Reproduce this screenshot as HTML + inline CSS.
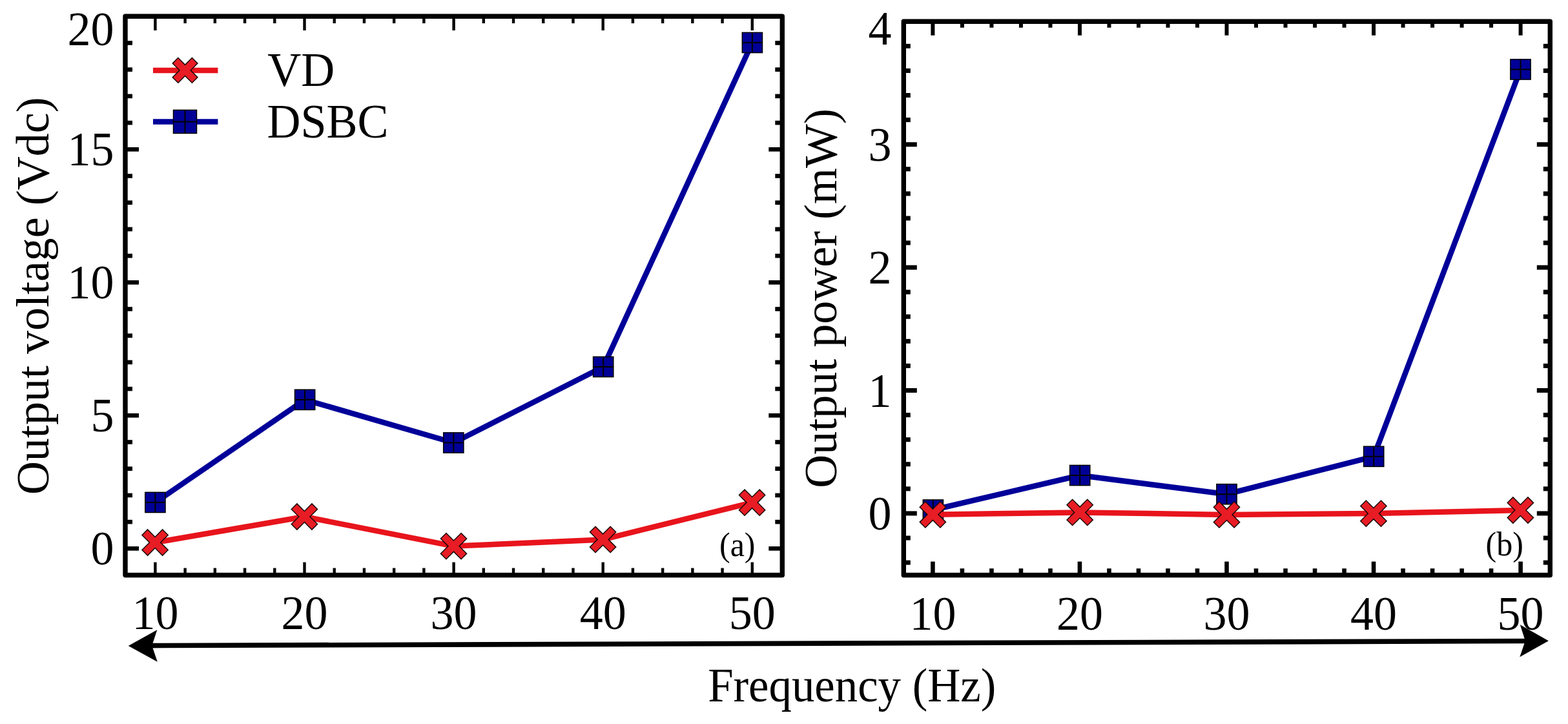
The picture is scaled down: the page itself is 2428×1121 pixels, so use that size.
<!DOCTYPE html><html><head><meta charset="utf-8"><title>Output voltage and power vs frequency</title>
<style>html,body{margin:0;padding:0;background:#fff;}svg{display:block;}text{font-family:"Liberation Serif",serif;fill:#000;}</style></head><body>
<svg width="2428" height="1121" viewBox="0 0 2428 1121">
<rect width="2428" height="1121" fill="#fff"/>
<line x1="194.00" y1="849.30" x2="215.00" y2="849.30" stroke="#000" stroke-width="6.60" stroke-linecap="butt"/>
<line x1="1211.30" y1="849.30" x2="1190.30" y2="849.30" stroke="#000" stroke-width="6.60" stroke-linecap="butt"/>
<line x1="194.00" y1="808.10" x2="205.00" y2="808.10" stroke="#000" stroke-width="6.60" stroke-linecap="butt"/>
<line x1="1211.30" y1="808.10" x2="1200.30" y2="808.10" stroke="#000" stroke-width="6.60" stroke-linecap="butt"/>
<line x1="194.00" y1="766.90" x2="205.00" y2="766.90" stroke="#000" stroke-width="6.60" stroke-linecap="butt"/>
<line x1="1211.30" y1="766.90" x2="1200.30" y2="766.90" stroke="#000" stroke-width="6.60" stroke-linecap="butt"/>
<line x1="194.00" y1="725.70" x2="205.00" y2="725.70" stroke="#000" stroke-width="6.60" stroke-linecap="butt"/>
<line x1="1211.30" y1="725.70" x2="1200.30" y2="725.70" stroke="#000" stroke-width="6.60" stroke-linecap="butt"/>
<line x1="194.00" y1="684.50" x2="205.00" y2="684.50" stroke="#000" stroke-width="6.60" stroke-linecap="butt"/>
<line x1="1211.30" y1="684.50" x2="1200.30" y2="684.50" stroke="#000" stroke-width="6.60" stroke-linecap="butt"/>
<line x1="194.00" y1="643.30" x2="215.00" y2="643.30" stroke="#000" stroke-width="6.60" stroke-linecap="butt"/>
<line x1="1211.30" y1="643.30" x2="1190.30" y2="643.30" stroke="#000" stroke-width="6.60" stroke-linecap="butt"/>
<line x1="194.00" y1="602.10" x2="205.00" y2="602.10" stroke="#000" stroke-width="6.60" stroke-linecap="butt"/>
<line x1="1211.30" y1="602.10" x2="1200.30" y2="602.10" stroke="#000" stroke-width="6.60" stroke-linecap="butt"/>
<line x1="194.00" y1="560.90" x2="205.00" y2="560.90" stroke="#000" stroke-width="6.60" stroke-linecap="butt"/>
<line x1="1211.30" y1="560.90" x2="1200.30" y2="560.90" stroke="#000" stroke-width="6.60" stroke-linecap="butt"/>
<line x1="194.00" y1="519.70" x2="205.00" y2="519.70" stroke="#000" stroke-width="6.60" stroke-linecap="butt"/>
<line x1="1211.30" y1="519.70" x2="1200.30" y2="519.70" stroke="#000" stroke-width="6.60" stroke-linecap="butt"/>
<line x1="194.00" y1="478.50" x2="205.00" y2="478.50" stroke="#000" stroke-width="6.60" stroke-linecap="butt"/>
<line x1="1211.30" y1="478.50" x2="1200.30" y2="478.50" stroke="#000" stroke-width="6.60" stroke-linecap="butt"/>
<line x1="194.00" y1="437.30" x2="215.00" y2="437.30" stroke="#000" stroke-width="6.60" stroke-linecap="butt"/>
<line x1="1211.30" y1="437.30" x2="1190.30" y2="437.30" stroke="#000" stroke-width="6.60" stroke-linecap="butt"/>
<line x1="194.00" y1="396.10" x2="205.00" y2="396.10" stroke="#000" stroke-width="6.60" stroke-linecap="butt"/>
<line x1="1211.30" y1="396.10" x2="1200.30" y2="396.10" stroke="#000" stroke-width="6.60" stroke-linecap="butt"/>
<line x1="194.00" y1="354.90" x2="205.00" y2="354.90" stroke="#000" stroke-width="6.60" stroke-linecap="butt"/>
<line x1="1211.30" y1="354.90" x2="1200.30" y2="354.90" stroke="#000" stroke-width="6.60" stroke-linecap="butt"/>
<line x1="194.00" y1="313.70" x2="205.00" y2="313.70" stroke="#000" stroke-width="6.60" stroke-linecap="butt"/>
<line x1="1211.30" y1="313.70" x2="1200.30" y2="313.70" stroke="#000" stroke-width="6.60" stroke-linecap="butt"/>
<line x1="194.00" y1="272.50" x2="205.00" y2="272.50" stroke="#000" stroke-width="6.60" stroke-linecap="butt"/>
<line x1="1211.30" y1="272.50" x2="1200.30" y2="272.50" stroke="#000" stroke-width="6.60" stroke-linecap="butt"/>
<line x1="194.00" y1="231.30" x2="215.00" y2="231.30" stroke="#000" stroke-width="6.60" stroke-linecap="butt"/>
<line x1="1211.30" y1="231.30" x2="1190.30" y2="231.30" stroke="#000" stroke-width="6.60" stroke-linecap="butt"/>
<line x1="194.00" y1="190.10" x2="205.00" y2="190.10" stroke="#000" stroke-width="6.60" stroke-linecap="butt"/>
<line x1="1211.30" y1="190.10" x2="1200.30" y2="190.10" stroke="#000" stroke-width="6.60" stroke-linecap="butt"/>
<line x1="194.00" y1="148.90" x2="205.00" y2="148.90" stroke="#000" stroke-width="6.60" stroke-linecap="butt"/>
<line x1="1211.30" y1="148.90" x2="1200.30" y2="148.90" stroke="#000" stroke-width="6.60" stroke-linecap="butt"/>
<line x1="194.00" y1="107.70" x2="205.00" y2="107.70" stroke="#000" stroke-width="6.60" stroke-linecap="butt"/>
<line x1="1211.30" y1="107.70" x2="1200.30" y2="107.70" stroke="#000" stroke-width="6.60" stroke-linecap="butt"/>
<line x1="194.00" y1="66.50" x2="205.00" y2="66.50" stroke="#000" stroke-width="6.60" stroke-linecap="butt"/>
<line x1="1211.30" y1="66.50" x2="1200.30" y2="66.50" stroke="#000" stroke-width="6.60" stroke-linecap="butt"/>
<line x1="240.40" y1="890.50" x2="240.40" y2="870.50" stroke="#000" stroke-width="4.40" stroke-linecap="butt"/>
<line x1="240.40" y1="25.30" x2="240.40" y2="47.10" stroke="#000" stroke-width="4.40" stroke-linecap="butt"/>
<line x1="286.62" y1="890.50" x2="286.62" y2="879.50" stroke="#000" stroke-width="4.40" stroke-linecap="butt"/>
<line x1="286.62" y1="25.30" x2="286.62" y2="36.10" stroke="#000" stroke-width="4.40" stroke-linecap="butt"/>
<line x1="332.84" y1="890.50" x2="332.84" y2="879.50" stroke="#000" stroke-width="4.40" stroke-linecap="butt"/>
<line x1="332.84" y1="25.30" x2="332.84" y2="36.10" stroke="#000" stroke-width="4.40" stroke-linecap="butt"/>
<line x1="379.06" y1="890.50" x2="379.06" y2="879.50" stroke="#000" stroke-width="4.40" stroke-linecap="butt"/>
<line x1="379.06" y1="25.30" x2="379.06" y2="36.10" stroke="#000" stroke-width="4.40" stroke-linecap="butt"/>
<line x1="425.28" y1="890.50" x2="425.28" y2="879.50" stroke="#000" stroke-width="4.40" stroke-linecap="butt"/>
<line x1="425.28" y1="25.30" x2="425.28" y2="36.10" stroke="#000" stroke-width="4.40" stroke-linecap="butt"/>
<line x1="471.50" y1="890.50" x2="471.50" y2="870.50" stroke="#000" stroke-width="4.40" stroke-linecap="butt"/>
<line x1="471.50" y1="25.30" x2="471.50" y2="47.10" stroke="#000" stroke-width="4.40" stroke-linecap="butt"/>
<line x1="517.72" y1="890.50" x2="517.72" y2="879.50" stroke="#000" stroke-width="4.40" stroke-linecap="butt"/>
<line x1="517.72" y1="25.30" x2="517.72" y2="36.10" stroke="#000" stroke-width="4.40" stroke-linecap="butt"/>
<line x1="563.94" y1="890.50" x2="563.94" y2="879.50" stroke="#000" stroke-width="4.40" stroke-linecap="butt"/>
<line x1="563.94" y1="25.30" x2="563.94" y2="36.10" stroke="#000" stroke-width="4.40" stroke-linecap="butt"/>
<line x1="610.16" y1="890.50" x2="610.16" y2="879.50" stroke="#000" stroke-width="4.40" stroke-linecap="butt"/>
<line x1="610.16" y1="25.30" x2="610.16" y2="36.10" stroke="#000" stroke-width="4.40" stroke-linecap="butt"/>
<line x1="656.38" y1="890.50" x2="656.38" y2="879.50" stroke="#000" stroke-width="4.40" stroke-linecap="butt"/>
<line x1="656.38" y1="25.30" x2="656.38" y2="36.10" stroke="#000" stroke-width="4.40" stroke-linecap="butt"/>
<line x1="702.60" y1="890.50" x2="702.60" y2="870.50" stroke="#000" stroke-width="4.40" stroke-linecap="butt"/>
<line x1="702.60" y1="25.30" x2="702.60" y2="47.10" stroke="#000" stroke-width="4.40" stroke-linecap="butt"/>
<line x1="748.82" y1="890.50" x2="748.82" y2="879.50" stroke="#000" stroke-width="4.40" stroke-linecap="butt"/>
<line x1="748.82" y1="25.30" x2="748.82" y2="36.10" stroke="#000" stroke-width="4.40" stroke-linecap="butt"/>
<line x1="795.04" y1="890.50" x2="795.04" y2="879.50" stroke="#000" stroke-width="4.40" stroke-linecap="butt"/>
<line x1="795.04" y1="25.30" x2="795.04" y2="36.10" stroke="#000" stroke-width="4.40" stroke-linecap="butt"/>
<line x1="841.26" y1="890.50" x2="841.26" y2="879.50" stroke="#000" stroke-width="4.40" stroke-linecap="butt"/>
<line x1="841.26" y1="25.30" x2="841.26" y2="36.10" stroke="#000" stroke-width="4.40" stroke-linecap="butt"/>
<line x1="887.48" y1="890.50" x2="887.48" y2="879.50" stroke="#000" stroke-width="4.40" stroke-linecap="butt"/>
<line x1="887.48" y1="25.30" x2="887.48" y2="36.10" stroke="#000" stroke-width="4.40" stroke-linecap="butt"/>
<line x1="933.70" y1="890.50" x2="933.70" y2="870.50" stroke="#000" stroke-width="4.40" stroke-linecap="butt"/>
<line x1="933.70" y1="25.30" x2="933.70" y2="47.10" stroke="#000" stroke-width="4.40" stroke-linecap="butt"/>
<line x1="979.92" y1="890.50" x2="979.92" y2="879.50" stroke="#000" stroke-width="4.40" stroke-linecap="butt"/>
<line x1="979.92" y1="25.30" x2="979.92" y2="36.10" stroke="#000" stroke-width="4.40" stroke-linecap="butt"/>
<line x1="1026.14" y1="890.50" x2="1026.14" y2="879.50" stroke="#000" stroke-width="4.40" stroke-linecap="butt"/>
<line x1="1026.14" y1="25.30" x2="1026.14" y2="36.10" stroke="#000" stroke-width="4.40" stroke-linecap="butt"/>
<line x1="1072.36" y1="890.50" x2="1072.36" y2="879.50" stroke="#000" stroke-width="4.40" stroke-linecap="butt"/>
<line x1="1072.36" y1="25.30" x2="1072.36" y2="36.10" stroke="#000" stroke-width="4.40" stroke-linecap="butt"/>
<line x1="1118.58" y1="890.50" x2="1118.58" y2="879.50" stroke="#000" stroke-width="4.40" stroke-linecap="butt"/>
<line x1="1118.58" y1="25.30" x2="1118.58" y2="36.10" stroke="#000" stroke-width="4.40" stroke-linecap="butt"/>
<line x1="1164.80" y1="890.50" x2="1164.80" y2="870.50" stroke="#000" stroke-width="4.40" stroke-linecap="butt"/>
<line x1="1164.80" y1="25.30" x2="1164.80" y2="47.10" stroke="#000" stroke-width="4.40" stroke-linecap="butt"/>
<rect x="194.00" y="25.30" width="1017.30" height="865.20" fill="none" stroke="#000" stroke-width="7.4" stroke-linejoin="round"/>
<polyline points="240.40,777.90 472.10,618.90 702.30,685.50 934.20,568.00 1164.90,66.00" fill="none" stroke="#000099" stroke-width="8.50" stroke-linejoin="round" stroke-linecap="butt"/>
<rect x="224.80" y="762.30" width="31.20" height="31.20" fill="#000096" stroke="#000" stroke-width="1.50"/>
<line x1="240.40" y1="762.30" x2="240.40" y2="793.50" stroke="#000" stroke-width="2.00"/>
<line x1="224.80" y1="777.90" x2="256.00" y2="777.90" stroke="#000" stroke-width="2.00"/>
<rect x="456.50" y="603.30" width="31.20" height="31.20" fill="#000096" stroke="#000" stroke-width="1.50"/>
<line x1="472.10" y1="603.30" x2="472.10" y2="634.50" stroke="#000" stroke-width="2.00"/>
<line x1="456.50" y1="618.90" x2="487.70" y2="618.90" stroke="#000" stroke-width="2.00"/>
<rect x="686.70" y="669.90" width="31.20" height="31.20" fill="#000096" stroke="#000" stroke-width="1.50"/>
<line x1="702.30" y1="669.90" x2="702.30" y2="701.10" stroke="#000" stroke-width="2.00"/>
<line x1="686.70" y1="685.50" x2="717.90" y2="685.50" stroke="#000" stroke-width="2.00"/>
<rect x="918.60" y="552.40" width="31.20" height="31.20" fill="#000096" stroke="#000" stroke-width="1.50"/>
<line x1="934.20" y1="552.40" x2="934.20" y2="583.60" stroke="#000" stroke-width="2.00"/>
<line x1="918.60" y1="568.00" x2="949.80" y2="568.00" stroke="#000" stroke-width="2.00"/>
<rect x="1149.30" y="50.40" width="31.20" height="31.20" fill="#000096" stroke="#000" stroke-width="1.50"/>
<line x1="1164.90" y1="50.40" x2="1164.90" y2="81.60" stroke="#000" stroke-width="2.00"/>
<line x1="1149.30" y1="66.00" x2="1180.50" y2="66.00" stroke="#000" stroke-width="2.00"/>
<polyline points="240.10,840.00 471.40,800.00 702.50,845.60 933.60,835.40 1164.60,778.10" fill="none" stroke="#E8141C" stroke-width="8.50" stroke-linejoin="round" stroke-linecap="butt"/>
<polygon points="228.54,860.12 240.10,848.56 251.66,860.12 260.22,851.56 248.66,840.00 260.22,828.44 251.66,819.88 240.10,831.44 228.54,819.88 219.98,828.44 231.54,840.00 219.98,851.56" fill="#E81C24" stroke="#1a0a0a" stroke-width="1.50" stroke-linejoin="miter"/>
<polygon points="459.84,820.12 471.40,808.56 482.96,820.12 491.52,811.56 479.96,800.00 491.52,788.44 482.96,779.88 471.40,791.44 459.84,779.88 451.28,788.44 462.84,800.00 451.28,811.56" fill="#E81C24" stroke="#1a0a0a" stroke-width="1.50" stroke-linejoin="miter"/>
<polygon points="690.94,865.72 702.50,854.16 714.06,865.72 722.62,857.16 711.06,845.60 722.62,834.04 714.06,825.48 702.50,837.04 690.94,825.48 682.38,834.04 693.94,845.60 682.38,857.16" fill="#E81C24" stroke="#1a0a0a" stroke-width="1.50" stroke-linejoin="miter"/>
<polygon points="922.04,855.52 933.60,843.96 945.16,855.52 953.72,846.96 942.16,835.40 953.72,823.84 945.16,815.28 933.60,826.84 922.04,815.28 913.48,823.84 925.04,835.40 913.48,846.96" fill="#E81C24" stroke="#1a0a0a" stroke-width="1.50" stroke-linejoin="miter"/>
<polygon points="1153.04,798.22 1164.60,786.66 1176.16,798.22 1184.72,789.66 1173.16,778.10 1184.72,766.54 1176.16,757.98 1164.60,769.54 1153.04,757.98 1144.48,766.54 1156.04,778.10 1144.48,789.66" fill="#E81C24" stroke="#1a0a0a" stroke-width="1.50" stroke-linejoin="miter"/>
<line x1="237.00" y1="109.00" x2="337.40" y2="109.00" stroke="#E8141C" stroke-width="8.50" stroke-linecap="butt"/>
<polygon points="275.82,128.24 286.60,117.46 297.38,128.24 305.94,119.68 295.16,108.90 305.94,98.12 297.38,89.56 286.60,100.34 275.82,89.56 267.26,98.12 278.04,108.90 267.26,119.68" fill="#E81C24" stroke="#1a0a0a" stroke-width="1.50" stroke-linejoin="miter"/>
<line x1="237.00" y1="188.60" x2="337.40" y2="188.60" stroke="#000099" stroke-width="8.50" stroke-linecap="butt"/>
<rect x="268.50" y="170.40" width="36.00" height="36.00" fill="#000096" stroke="#000" stroke-width="1.50"/>
<line x1="286.50" y1="170.40" x2="286.50" y2="206.40" stroke="#000" stroke-width="2.00"/>
<line x1="268.50" y1="188.40" x2="304.50" y2="188.40" stroke="#000" stroke-width="2.00"/>
<text transform="translate(414.20,132.80) scale(1,1.035)" font-size="72.00" text-anchor="start" >VD</text>
<text transform="translate(413.40,212.80) scale(1,1.035)" font-size="72.00" text-anchor="start" >DSBC</text>
<text transform="translate(176.50,874.30) scale(1,1.035)" font-size="72.00" text-anchor="end" >0</text>
<text transform="translate(176.50,667.60) scale(1,1.035)" font-size="72.00" text-anchor="end" >5</text>
<text transform="translate(176.50,461.70) scale(1,1.035)" font-size="72.00" text-anchor="end" >10</text>
<text transform="translate(176.50,256.00) scale(1,1.035)" font-size="72.00" text-anchor="end" >15</text>
<text transform="translate(176.50,70.10) scale(1,1.035)" font-size="72.00" text-anchor="end" >20</text>
<text transform="translate(240.40,973.50) scale(1,1.035)" font-size="72.00" text-anchor="middle" >10</text>
<text transform="translate(471.50,973.50) scale(1,1.035)" font-size="72.00" text-anchor="middle" >20</text>
<text transform="translate(702.60,973.50) scale(1,1.035)" font-size="72.00" text-anchor="middle" >30</text>
<text transform="translate(933.70,973.50) scale(1,1.035)" font-size="72.00" text-anchor="middle" >40</text>
<text transform="translate(1164.80,973.50) scale(1,1.035)" font-size="72.00" text-anchor="middle" >50</text>
<text transform="translate(1114.00,860.60) scale(1,1.035)" font-size="50.00" text-anchor="start" >(a)</text>
<text transform="translate(75.2,458.2) rotate(-90)" font-size="72" text-anchor="middle">Output voltage (Vdc)</text>
<line x1="1399.30" y1="871.06" x2="1409.80" y2="871.06" stroke="#000" stroke-width="7.00" stroke-linecap="butt"/>
<line x1="2400.30" y1="871.06" x2="2389.80" y2="871.06" stroke="#000" stroke-width="7.00" stroke-linecap="butt"/>
<line x1="1399.30" y1="832.98" x2="1409.80" y2="832.98" stroke="#000" stroke-width="7.00" stroke-linecap="butt"/>
<line x1="2400.30" y1="832.98" x2="2389.80" y2="832.98" stroke="#000" stroke-width="7.00" stroke-linecap="butt"/>
<line x1="1399.30" y1="794.90" x2="1419.80" y2="794.90" stroke="#000" stroke-width="7.00" stroke-linecap="butt"/>
<line x1="2400.30" y1="794.90" x2="2379.80" y2="794.90" stroke="#000" stroke-width="7.00" stroke-linecap="butt"/>
<line x1="1399.30" y1="756.82" x2="1409.80" y2="756.82" stroke="#000" stroke-width="7.00" stroke-linecap="butt"/>
<line x1="2400.30" y1="756.82" x2="2389.80" y2="756.82" stroke="#000" stroke-width="7.00" stroke-linecap="butt"/>
<line x1="1399.30" y1="718.74" x2="1409.80" y2="718.74" stroke="#000" stroke-width="7.00" stroke-linecap="butt"/>
<line x1="2400.30" y1="718.74" x2="2389.80" y2="718.74" stroke="#000" stroke-width="7.00" stroke-linecap="butt"/>
<line x1="1399.30" y1="680.66" x2="1409.80" y2="680.66" stroke="#000" stroke-width="7.00" stroke-linecap="butt"/>
<line x1="2400.30" y1="680.66" x2="2389.80" y2="680.66" stroke="#000" stroke-width="7.00" stroke-linecap="butt"/>
<line x1="1399.30" y1="642.58" x2="1409.80" y2="642.58" stroke="#000" stroke-width="7.00" stroke-linecap="butt"/>
<line x1="2400.30" y1="642.58" x2="2389.80" y2="642.58" stroke="#000" stroke-width="7.00" stroke-linecap="butt"/>
<line x1="1399.30" y1="604.50" x2="1419.80" y2="604.50" stroke="#000" stroke-width="7.00" stroke-linecap="butt"/>
<line x1="2400.30" y1="604.50" x2="2379.80" y2="604.50" stroke="#000" stroke-width="7.00" stroke-linecap="butt"/>
<line x1="1399.30" y1="566.42" x2="1409.80" y2="566.42" stroke="#000" stroke-width="7.00" stroke-linecap="butt"/>
<line x1="2400.30" y1="566.42" x2="2389.80" y2="566.42" stroke="#000" stroke-width="7.00" stroke-linecap="butt"/>
<line x1="1399.30" y1="528.34" x2="1409.80" y2="528.34" stroke="#000" stroke-width="7.00" stroke-linecap="butt"/>
<line x1="2400.30" y1="528.34" x2="2389.80" y2="528.34" stroke="#000" stroke-width="7.00" stroke-linecap="butt"/>
<line x1="1399.30" y1="490.26" x2="1409.80" y2="490.26" stroke="#000" stroke-width="7.00" stroke-linecap="butt"/>
<line x1="2400.30" y1="490.26" x2="2389.80" y2="490.26" stroke="#000" stroke-width="7.00" stroke-linecap="butt"/>
<line x1="1399.30" y1="452.18" x2="1409.80" y2="452.18" stroke="#000" stroke-width="7.00" stroke-linecap="butt"/>
<line x1="2400.30" y1="452.18" x2="2389.80" y2="452.18" stroke="#000" stroke-width="7.00" stroke-linecap="butt"/>
<line x1="1399.30" y1="414.10" x2="1419.80" y2="414.10" stroke="#000" stroke-width="7.00" stroke-linecap="butt"/>
<line x1="2400.30" y1="414.10" x2="2379.80" y2="414.10" stroke="#000" stroke-width="7.00" stroke-linecap="butt"/>
<line x1="1399.30" y1="376.02" x2="1409.80" y2="376.02" stroke="#000" stroke-width="7.00" stroke-linecap="butt"/>
<line x1="2400.30" y1="376.02" x2="2389.80" y2="376.02" stroke="#000" stroke-width="7.00" stroke-linecap="butt"/>
<line x1="1399.30" y1="337.94" x2="1409.80" y2="337.94" stroke="#000" stroke-width="7.00" stroke-linecap="butt"/>
<line x1="2400.30" y1="337.94" x2="2389.80" y2="337.94" stroke="#000" stroke-width="7.00" stroke-linecap="butt"/>
<line x1="1399.30" y1="299.86" x2="1409.80" y2="299.86" stroke="#000" stroke-width="7.00" stroke-linecap="butt"/>
<line x1="2400.30" y1="299.86" x2="2389.80" y2="299.86" stroke="#000" stroke-width="7.00" stroke-linecap="butt"/>
<line x1="1399.30" y1="261.78" x2="1409.80" y2="261.78" stroke="#000" stroke-width="7.00" stroke-linecap="butt"/>
<line x1="2400.30" y1="261.78" x2="2389.80" y2="261.78" stroke="#000" stroke-width="7.00" stroke-linecap="butt"/>
<line x1="1399.30" y1="223.70" x2="1419.80" y2="223.70" stroke="#000" stroke-width="7.00" stroke-linecap="butt"/>
<line x1="2400.30" y1="223.70" x2="2379.80" y2="223.70" stroke="#000" stroke-width="7.00" stroke-linecap="butt"/>
<line x1="1399.30" y1="185.62" x2="1409.80" y2="185.62" stroke="#000" stroke-width="7.00" stroke-linecap="butt"/>
<line x1="2400.30" y1="185.62" x2="2389.80" y2="185.62" stroke="#000" stroke-width="7.00" stroke-linecap="butt"/>
<line x1="1399.30" y1="147.54" x2="1409.80" y2="147.54" stroke="#000" stroke-width="7.00" stroke-linecap="butt"/>
<line x1="2400.30" y1="147.54" x2="2389.80" y2="147.54" stroke="#000" stroke-width="7.00" stroke-linecap="butt"/>
<line x1="1399.30" y1="109.46" x2="1409.80" y2="109.46" stroke="#000" stroke-width="7.00" stroke-linecap="butt"/>
<line x1="2400.30" y1="109.46" x2="2389.80" y2="109.46" stroke="#000" stroke-width="7.00" stroke-linecap="butt"/>
<line x1="1399.30" y1="71.38" x2="1409.80" y2="71.38" stroke="#000" stroke-width="7.00" stroke-linecap="butt"/>
<line x1="2400.30" y1="71.38" x2="2389.80" y2="71.38" stroke="#000" stroke-width="7.00" stroke-linecap="butt"/>
<line x1="1444.40" y1="890.50" x2="1444.40" y2="869.50" stroke="#000" stroke-width="6.60" stroke-linecap="butt"/>
<line x1="1444.40" y1="33.30" x2="1444.40" y2="54.80" stroke="#000" stroke-width="6.00" stroke-linecap="butt"/>
<line x1="1489.91" y1="890.50" x2="1489.91" y2="880.20" stroke="#000" stroke-width="6.60" stroke-linecap="butt"/>
<line x1="1489.91" y1="33.30" x2="1489.91" y2="42.80" stroke="#000" stroke-width="6.00" stroke-linecap="butt"/>
<line x1="1535.42" y1="890.50" x2="1535.42" y2="880.20" stroke="#000" stroke-width="6.60" stroke-linecap="butt"/>
<line x1="1535.42" y1="33.30" x2="1535.42" y2="42.80" stroke="#000" stroke-width="6.00" stroke-linecap="butt"/>
<line x1="1580.93" y1="890.50" x2="1580.93" y2="880.20" stroke="#000" stroke-width="6.60" stroke-linecap="butt"/>
<line x1="1580.93" y1="33.30" x2="1580.93" y2="42.80" stroke="#000" stroke-width="6.00" stroke-linecap="butt"/>
<line x1="1626.44" y1="890.50" x2="1626.44" y2="880.20" stroke="#000" stroke-width="6.60" stroke-linecap="butt"/>
<line x1="1626.44" y1="33.30" x2="1626.44" y2="42.80" stroke="#000" stroke-width="6.00" stroke-linecap="butt"/>
<line x1="1671.95" y1="890.50" x2="1671.95" y2="869.50" stroke="#000" stroke-width="6.60" stroke-linecap="butt"/>
<line x1="1671.95" y1="33.30" x2="1671.95" y2="54.80" stroke="#000" stroke-width="6.00" stroke-linecap="butt"/>
<line x1="1717.46" y1="890.50" x2="1717.46" y2="880.20" stroke="#000" stroke-width="6.60" stroke-linecap="butt"/>
<line x1="1717.46" y1="33.30" x2="1717.46" y2="42.80" stroke="#000" stroke-width="6.00" stroke-linecap="butt"/>
<line x1="1762.97" y1="890.50" x2="1762.97" y2="880.20" stroke="#000" stroke-width="6.60" stroke-linecap="butt"/>
<line x1="1762.97" y1="33.30" x2="1762.97" y2="42.80" stroke="#000" stroke-width="6.00" stroke-linecap="butt"/>
<line x1="1808.48" y1="890.50" x2="1808.48" y2="880.20" stroke="#000" stroke-width="6.60" stroke-linecap="butt"/>
<line x1="1808.48" y1="33.30" x2="1808.48" y2="42.80" stroke="#000" stroke-width="6.00" stroke-linecap="butt"/>
<line x1="1853.99" y1="890.50" x2="1853.99" y2="880.20" stroke="#000" stroke-width="6.60" stroke-linecap="butt"/>
<line x1="1853.99" y1="33.30" x2="1853.99" y2="42.80" stroke="#000" stroke-width="6.00" stroke-linecap="butt"/>
<line x1="1899.50" y1="890.50" x2="1899.50" y2="869.50" stroke="#000" stroke-width="6.60" stroke-linecap="butt"/>
<line x1="1899.50" y1="33.30" x2="1899.50" y2="54.80" stroke="#000" stroke-width="6.00" stroke-linecap="butt"/>
<line x1="1945.01" y1="890.50" x2="1945.01" y2="880.20" stroke="#000" stroke-width="6.60" stroke-linecap="butt"/>
<line x1="1945.01" y1="33.30" x2="1945.01" y2="42.80" stroke="#000" stroke-width="6.00" stroke-linecap="butt"/>
<line x1="1990.52" y1="890.50" x2="1990.52" y2="880.20" stroke="#000" stroke-width="6.60" stroke-linecap="butt"/>
<line x1="1990.52" y1="33.30" x2="1990.52" y2="42.80" stroke="#000" stroke-width="6.00" stroke-linecap="butt"/>
<line x1="2036.03" y1="890.50" x2="2036.03" y2="880.20" stroke="#000" stroke-width="6.60" stroke-linecap="butt"/>
<line x1="2036.03" y1="33.30" x2="2036.03" y2="42.80" stroke="#000" stroke-width="6.00" stroke-linecap="butt"/>
<line x1="2081.54" y1="890.50" x2="2081.54" y2="880.20" stroke="#000" stroke-width="6.60" stroke-linecap="butt"/>
<line x1="2081.54" y1="33.30" x2="2081.54" y2="42.80" stroke="#000" stroke-width="6.00" stroke-linecap="butt"/>
<line x1="2127.05" y1="890.50" x2="2127.05" y2="869.50" stroke="#000" stroke-width="6.60" stroke-linecap="butt"/>
<line x1="2127.05" y1="33.30" x2="2127.05" y2="54.80" stroke="#000" stroke-width="6.00" stroke-linecap="butt"/>
<line x1="2172.56" y1="890.50" x2="2172.56" y2="880.20" stroke="#000" stroke-width="6.60" stroke-linecap="butt"/>
<line x1="2172.56" y1="33.30" x2="2172.56" y2="42.80" stroke="#000" stroke-width="6.00" stroke-linecap="butt"/>
<line x1="2218.07" y1="890.50" x2="2218.07" y2="880.20" stroke="#000" stroke-width="6.60" stroke-linecap="butt"/>
<line x1="2218.07" y1="33.30" x2="2218.07" y2="42.80" stroke="#000" stroke-width="6.00" stroke-linecap="butt"/>
<line x1="2263.58" y1="890.50" x2="2263.58" y2="880.20" stroke="#000" stroke-width="6.60" stroke-linecap="butt"/>
<line x1="2263.58" y1="33.30" x2="2263.58" y2="42.80" stroke="#000" stroke-width="6.00" stroke-linecap="butt"/>
<line x1="2309.09" y1="890.50" x2="2309.09" y2="880.20" stroke="#000" stroke-width="6.60" stroke-linecap="butt"/>
<line x1="2309.09" y1="33.30" x2="2309.09" y2="42.80" stroke="#000" stroke-width="6.00" stroke-linecap="butt"/>
<line x1="2354.60" y1="890.50" x2="2354.60" y2="869.50" stroke="#000" stroke-width="6.60" stroke-linecap="butt"/>
<line x1="2354.60" y1="33.30" x2="2354.60" y2="54.80" stroke="#000" stroke-width="6.00" stroke-linecap="butt"/>
<rect x="1399.30" y="33.30" width="1001.00" height="857.20" fill="none" stroke="#000" stroke-width="7.4" stroke-linejoin="round"/>
<polyline points="1444.90,789.50 1672.20,736.00 1899.50,765.20 2127.20,706.80 2354.50,107.50" fill="none" stroke="#000099" stroke-width="8.50" stroke-linejoin="round" stroke-linecap="butt"/>
<rect x="1429.30" y="773.90" width="31.20" height="31.20" fill="#000096" stroke="#000" stroke-width="1.50"/>
<line x1="1444.90" y1="773.90" x2="1444.90" y2="805.10" stroke="#000" stroke-width="2.00"/>
<line x1="1429.30" y1="789.50" x2="1460.50" y2="789.50" stroke="#000" stroke-width="2.00"/>
<rect x="1656.60" y="720.40" width="31.20" height="31.20" fill="#000096" stroke="#000" stroke-width="1.50"/>
<line x1="1672.20" y1="720.40" x2="1672.20" y2="751.60" stroke="#000" stroke-width="2.00"/>
<line x1="1656.60" y1="736.00" x2="1687.80" y2="736.00" stroke="#000" stroke-width="2.00"/>
<rect x="1883.90" y="749.60" width="31.20" height="31.20" fill="#000096" stroke="#000" stroke-width="1.50"/>
<line x1="1899.50" y1="749.60" x2="1899.50" y2="780.80" stroke="#000" stroke-width="2.00"/>
<line x1="1883.90" y1="765.20" x2="1915.10" y2="765.20" stroke="#000" stroke-width="2.00"/>
<rect x="2111.60" y="691.20" width="31.20" height="31.20" fill="#000096" stroke="#000" stroke-width="1.50"/>
<line x1="2127.20" y1="691.20" x2="2127.20" y2="722.40" stroke="#000" stroke-width="2.00"/>
<line x1="2111.60" y1="706.80" x2="2142.80" y2="706.80" stroke="#000" stroke-width="2.00"/>
<rect x="2338.90" y="91.90" width="31.20" height="31.20" fill="#000096" stroke="#000" stroke-width="1.50"/>
<line x1="2354.50" y1="91.90" x2="2354.50" y2="123.10" stroke="#000" stroke-width="2.00"/>
<line x1="2338.90" y1="107.50" x2="2370.10" y2="107.50" stroke="#000" stroke-width="2.00"/>
<polyline points="1444.40,796.80 1672.20,793.40 1899.50,796.90 2126.90,795.10 2354.40,790.00" fill="none" stroke="#E8141C" stroke-width="8.50" stroke-linejoin="round" stroke-linecap="butt"/>
<polygon points="1432.84,816.92 1444.40,805.36 1455.96,816.92 1464.52,808.36 1452.96,796.80 1464.52,785.24 1455.96,776.68 1444.40,788.24 1432.84,776.68 1424.28,785.24 1435.84,796.80 1424.28,808.36" fill="#E81C24" stroke="#1a0a0a" stroke-width="1.50" stroke-linejoin="miter"/>
<polygon points="1660.64,813.52 1672.20,801.96 1683.76,813.52 1692.32,804.96 1680.76,793.40 1692.32,781.84 1683.76,773.28 1672.20,784.84 1660.64,773.28 1652.08,781.84 1663.64,793.40 1652.08,804.96" fill="#E81C24" stroke="#1a0a0a" stroke-width="1.50" stroke-linejoin="miter"/>
<polygon points="1887.94,817.02 1899.50,805.46 1911.06,817.02 1919.62,808.46 1908.06,796.90 1919.62,785.34 1911.06,776.78 1899.50,788.34 1887.94,776.78 1879.38,785.34 1890.94,796.90 1879.38,808.46" fill="#E81C24" stroke="#1a0a0a" stroke-width="1.50" stroke-linejoin="miter"/>
<polygon points="2115.34,815.22 2126.90,803.66 2138.46,815.22 2147.02,806.66 2135.46,795.10 2147.02,783.54 2138.46,774.98 2126.90,786.54 2115.34,774.98 2106.78,783.54 2118.34,795.10 2106.78,806.66" fill="#E81C24" stroke="#1a0a0a" stroke-width="1.50" stroke-linejoin="miter"/>
<polygon points="2342.84,810.12 2354.40,798.56 2365.96,810.12 2374.52,801.56 2362.96,790.00 2374.52,778.44 2365.96,769.88 2354.40,781.44 2342.84,769.88 2334.28,778.44 2345.84,790.00 2334.28,801.56" fill="#E81C24" stroke="#1a0a0a" stroke-width="1.50" stroke-linejoin="miter"/>
<text transform="translate(1380.50,820.00) scale(1,1.035)" font-size="72.00" text-anchor="end" >0</text>
<text transform="translate(1380.50,629.50) scale(1,1.035)" font-size="72.00" text-anchor="end" >1</text>
<text transform="translate(1380.50,439.10) scale(1,1.035)" font-size="72.00" text-anchor="end" >2</text>
<text transform="translate(1380.50,248.60) scale(1,1.035)" font-size="72.00" text-anchor="end" >3</text>
<text transform="translate(1380.50,68.70) scale(1,1.035)" font-size="72.00" text-anchor="end" >4</text>
<text transform="translate(1444.40,974.50) scale(1,1.035)" font-size="72.00" text-anchor="middle" >10</text>
<text transform="translate(1671.95,974.50) scale(1,1.035)" font-size="72.00" text-anchor="middle" >20</text>
<text transform="translate(1899.50,974.50) scale(1,1.035)" font-size="72.00" text-anchor="middle" >30</text>
<text transform="translate(2127.05,974.50) scale(1,1.035)" font-size="72.00" text-anchor="middle" >40</text>
<text transform="translate(2354.60,974.50) scale(1,1.035)" font-size="72.00" text-anchor="middle" >50</text>
<text transform="translate(2300.50,859.50) scale(1,1.035)" font-size="50.00" text-anchor="start" >(b)</text>
<text transform="translate(1295.0,461.9) rotate(-90)" font-size="72" text-anchor="middle">Output power (mW)</text>
<line x1="230.00" y1="999.60" x2="2368.00" y2="992.50" stroke="#000" stroke-width="7.60" stroke-linecap="butt"/>
<polygon points="198.7,1000.1 243.3,975.2 235.3,999.8 243.8,1024.7" fill="#000"/>
<polygon points="2397.9,992.2 2353.8,967.2 2361.8,992.3 2353.3,1017.2" fill="#000"/>
<text transform="translate(1319.25,1085.6) scale(1,1.04)" font-size="70.8" text-anchor="middle">Frequency (Hz)</text>
</svg></body></html>
